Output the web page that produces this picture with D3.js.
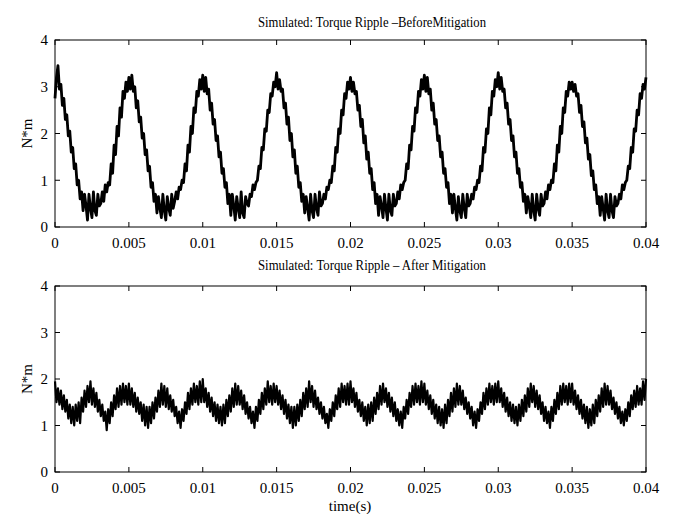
<!DOCTYPE html>
<html><head><meta charset="utf-8">
<script src="https://cdn.jsdelivr.net/npm/d3@7"></script>
<style>body{margin:0;background:#fff}svg{display:block}</style>
</head><body>
<svg id="c" width="685" height="514"></svg>
<script>
// ---- data ----
const sampleStep = 0.0001; // s between samples
const xTicks = [0, 0.005, 0.01, 0.015, 0.02, 0.025, 0.03, 0.035, 0.04];
const xTickLabels = ["0", "0.005", "0.01", "0.015", "0.02", "0.025", "0.03", "0.035", "0.04"];
const yTicks = [0, 1, 2, 3, 4];
const titles = ["Simulated: Torque Ripple \u2013BeforeMitigation", "Simulated: Torque Ripple \u2013 After Mitigation"];
const yLabel = "N*m";
const xLabel = "time(s)";

const torqueBefore = [
2.75,3.2,3.45,2.95,3.05,2.6,2.75,2.3,2.4,1.95,2.05,1.6,1.7,1.25,1.35,0.9,1.0,0.6,0.75,0.35,0.7,0.45,0.15,0.7,0.4,0.2,0.75,0.35,0.25,0.7,0.45,0.5,0.75,0.55,0.9,0.75,0.95,0.9,1.35,1.15,1.75,1.55,2.15,1.95,2.55,2.35,2.9,2.75,3.1,2.9,
3.2,2.95,3.25,2.9,3.0,2.55,2.7,2.25,2.35,1.9,2.0,1.55,1.65,1.2,1.3,0.85,0.95,0.55,0.7,0.3,0.65,0.4,0.2,0.7,0.35,0.15,0.65,0.4,0.25,0.7,0.4,0.55,0.75,0.6,0.85,0.8,1.0,0.95,1.35,1.2,1.75,1.6,2.15,2.0,2.55,2.45,2.9,2.8,3.15,2.95,
3.25,2.9,3.2,2.85,2.95,2.5,2.65,2.2,2.3,1.85,1.95,1.5,1.6,1.15,1.25,0.85,0.95,0.5,0.7,0.25,0.7,0.45,0.15,0.65,0.4,0.2,0.75,0.3,0.2,0.65,0.5,0.45,0.7,0.65,0.9,0.8,0.95,1.0,1.3,1.25,1.7,1.65,2.1,2.05,2.5,2.45,2.85,2.8,3.1,3.0,
3.3,2.95,3.15,2.9,2.95,2.55,2.65,2.2,2.35,1.85,2.0,1.5,1.65,1.15,1.3,0.85,0.95,0.55,0.7,0.3,0.65,0.4,0.15,0.7,0.35,0.2,0.7,0.4,0.25,0.75,0.45,0.5,0.7,0.6,0.85,0.8,1.0,0.95,1.3,1.2,1.7,1.6,2.1,2.0,2.5,2.4,2.85,2.75,3.1,2.95,
3.2,2.9,3.1,2.85,2.9,2.5,2.6,2.15,2.3,1.8,1.95,1.45,1.6,1.15,1.25,0.8,0.95,0.5,0.7,0.25,0.65,0.45,0.2,0.7,0.4,0.15,0.7,0.35,0.25,0.7,0.45,0.5,0.75,0.6,0.9,0.8,0.95,1.0,1.35,1.25,1.75,1.65,2.15,2.05,2.55,2.45,2.9,2.8,3.15,2.95,
3.25,2.9,3.2,2.85,2.95,2.5,2.65,2.2,2.3,1.85,1.95,1.5,1.6,1.15,1.25,0.85,0.95,0.5,0.7,0.3,0.7,0.4,0.15,0.65,0.35,0.2,0.7,0.4,0.2,0.7,0.45,0.5,0.7,0.6,0.85,0.8,1.0,0.95,1.3,1.2,1.7,1.6,2.1,2.0,2.55,2.4,2.9,2.8,3.15,3.0,
3.3,2.95,3.2,2.9,2.95,2.55,2.65,2.2,2.3,1.85,1.95,1.5,1.6,1.15,1.25,0.85,0.95,0.55,0.7,0.3,0.65,0.45,0.2,0.7,0.35,0.15,0.7,0.4,0.25,0.7,0.45,0.5,0.75,0.6,0.9,0.8,1.0,0.95,1.35,1.2,1.75,1.6,2.15,2.0,2.55,2.45,2.9,2.8,3.1,2.95,
3.1,2.9,3.05,2.8,2.85,2.45,2.6,2.15,2.25,1.8,1.9,1.45,1.55,1.1,1.2,0.8,0.9,0.5,0.65,0.25,0.65,0.4,0.15,0.7,0.35,0.2,0.7,0.35,0.2,0.65,0.45,0.5,0.7,0.6,0.9,0.8,0.95,1.0,1.3,1.25,1.7,1.6,2.1,2.05,2.5,2.4,2.85,2.75,3.05,2.95,
3.2];

const torqueAfter = [
1.95,1.5,1.8,1.45,1.75,1.35,1.65,1.3,1.55,1.15,1.45,1.05,1.4,1.0,1.45,1.1,1.5,1.05,1.6,1.3,1.75,1.4,1.85,1.5,1.95,1.45,1.8,1.4,1.7,1.3,1.55,1.2,1.45,1.1,1.3,0.9,1.35,1.05,1.5,1.2,1.65,1.35,1.8,1.4,1.85,1.45,1.9,1.5,1.85,1.45,
1.9,1.45,1.8,1.4,1.7,1.3,1.6,1.25,1.5,1.1,1.45,1.0,1.4,0.95,1.4,1.05,1.5,1.15,1.6,1.3,1.75,1.4,1.9,1.45,1.85,1.4,1.8,1.35,1.65,1.3,1.55,1.2,1.4,1.05,1.3,0.95,1.35,1.1,1.5,1.25,1.7,1.35,1.8,1.45,1.9,1.5,1.85,1.45,1.95,1.5,
2.0,1.5,1.8,1.4,1.7,1.3,1.6,1.2,1.5,1.1,1.45,1.05,1.4,1.0,1.45,1.05,1.55,1.2,1.65,1.3,1.8,1.4,1.9,1.45,1.85,1.45,1.75,1.35,1.65,1.25,1.5,1.15,1.4,1.05,1.3,0.95,1.4,1.1,1.55,1.25,1.7,1.35,1.8,1.45,1.95,1.5,1.85,1.45,1.9,1.5,
1.85,1.45,1.75,1.35,1.65,1.25,1.55,1.15,1.45,1.05,1.4,0.95,1.4,1.0,1.45,1.1,1.55,1.2,1.7,1.35,1.8,1.4,1.95,1.5,1.85,1.4,1.75,1.35,1.6,1.25,1.5,1.15,1.4,1.05,1.25,0.95,1.35,1.1,1.5,1.2,1.65,1.35,1.8,1.4,1.9,1.5,1.85,1.45,1.9,1.45,
1.95,1.5,1.8,1.4,1.7,1.3,1.55,1.2,1.5,1.1,1.4,1.0,1.45,1.05,1.5,1.1,1.6,1.25,1.7,1.35,1.85,1.45,1.9,1.5,1.8,1.4,1.7,1.3,1.6,1.2,1.5,1.1,1.35,1.0,1.3,0.95,1.4,1.15,1.55,1.25,1.7,1.4,1.85,1.45,1.9,1.5,1.85,1.45,1.95,1.5,
1.9,1.45,1.75,1.35,1.65,1.25,1.55,1.15,1.45,1.05,1.4,1.0,1.35,0.95,1.45,1.05,1.55,1.2,1.7,1.3,1.8,1.4,1.9,1.45,1.85,1.45,1.75,1.35,1.6,1.25,1.5,1.15,1.4,1.0,1.3,0.95,1.35,1.1,1.5,1.25,1.7,1.35,1.8,1.45,1.9,1.5,1.85,1.45,1.9,1.5,
1.95,1.5,1.8,1.4,1.7,1.3,1.6,1.2,1.5,1.1,1.45,1.05,1.4,1.0,1.45,1.1,1.55,1.2,1.65,1.3,1.8,1.4,1.9,1.5,1.85,1.4,1.75,1.35,1.65,1.25,1.5,1.1,1.4,1.05,1.3,0.95,1.4,1.1,1.55,1.25,1.7,1.35,1.85,1.45,1.9,1.5,1.85,1.45,1.9,1.5,
1.9,1.45,1.75,1.35,1.65,1.25,1.55,1.15,1.45,1.05,1.4,0.95,1.35,1.0,1.45,1.05,1.55,1.2,1.65,1.3,1.8,1.4,1.9,1.45,1.85,1.45,1.75,1.35,1.6,1.25,1.5,1.15,1.4,1.05,1.3,1.0,1.35,1.1,1.5,1.2,1.65,1.35,1.75,1.4,1.85,1.45,1.8,1.45,1.95,1.55,
2.0];

// ---- drawing ----
const svg = d3.select("#c");
const font = "'Liberation Serif','Times New Roman',serif";
const left = 55, right = 646;
const panels = [
  {top: 40, bottom: 227, data: torqueBefore, title: titles[0], titleY: 27, showXLabel: false, sw: 2.8},
  {top: 286, bottom: 472, data: torqueAfter, title: titles[1], titleY: 270, showXLabel: true, sw: 2.2}
];
const x = d3.scaleLinear().domain([0, 0.04]).range([left, right]);

panels.forEach(p => {
  const y = d3.scaleLinear().domain([0, 4]).range([p.bottom, p.top]);
  const g = svg.append("g");

  // series line
  const line = d3.line().x((d, i) => x(i * sampleStep)).y(d => y(d));
  g.append("path").datum(p.data).attr("d", line)
    .attr("fill", "none").attr("stroke", "#000").attr("stroke-width", p.sw)
    .attr("stroke-linejoin", "round");

  // axes with inward ticks on all sides
  const tickLen = 5;
  const ax = g.append("g");
  ax.append("rect").attr("x", left).attr("y", p.top)
    .attr("width", right - left).attr("height", p.bottom - p.top)
    .attr("fill", "none").attr("stroke", "#000").attr("stroke-width", 1);
  xTicks.forEach((t, i) => {
    ax.append("line").attr("x1", x(t)).attr("x2", x(t)).attr("y1", p.bottom).attr("y2", p.bottom - tickLen).attr("stroke", "#000");
    ax.append("line").attr("x1", x(t)).attr("x2", x(t)).attr("y1", p.top).attr("y2", p.top + tickLen).attr("stroke", "#000");
    ax.append("text").attr("x", x(t)).attr("y", p.bottom + 21)
      .attr("text-anchor", "middle").attr("font-family", font).attr("font-size", 15)
      .text(xTickLabels[i]);
  });
  yTicks.forEach(v => {
    ax.append("line").attr("x1", left).attr("x2", left + tickLen).attr("y1", y(v)).attr("y2", y(v)).attr("stroke", "#000");
    ax.append("line").attr("x1", right).attr("x2", right - tickLen).attr("y1", y(v)).attr("y2", y(v)).attr("stroke", "#000");
    ax.append("text").attr("x", 48).attr("y", y(v)).attr("dy", "0.35em")
      .attr("text-anchor", "end").attr("font-family", font).attr("font-size", 15)
      .text(v);
  });
  // y label
  g.append("text").attr("transform", `translate(32,${(p.top + p.bottom) / 2}) rotate(-90)`)
    .attr("text-anchor", "middle").attr("font-family", font).attr("font-size", 15)
    .text(yLabel);
  // title
  g.append("text").attr("x", 372).attr("y", p.titleY)
    .attr("text-anchor", "middle").attr("font-family", font).attr("font-size", 14)
    .attr("textLength", 228).attr("lengthAdjust", "spacingAndGlyphs")
    .text(p.title);
  if (p.showXLabel) {
    g.append("text").attr("x", 350).attr("y", 511)
      .attr("text-anchor", "middle").attr("font-family", font).attr("font-size", 15)
      .text(xLabel);
  }
});
</script>
</body></html>
